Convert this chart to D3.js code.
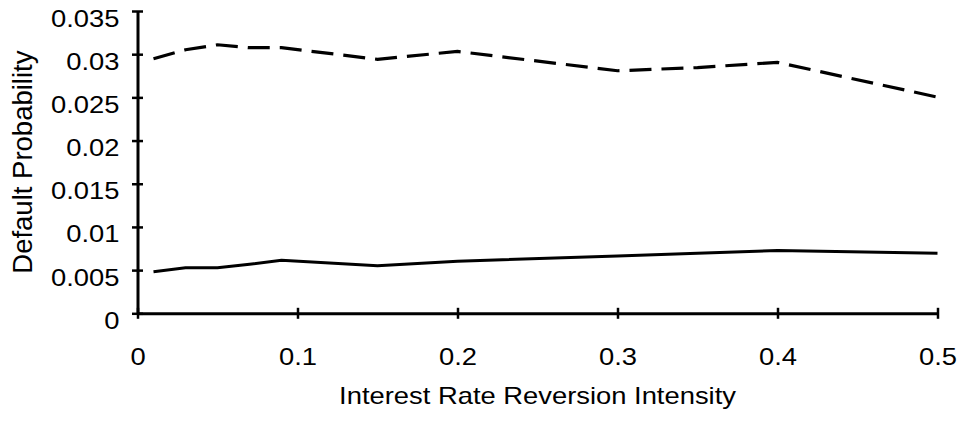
<!DOCTYPE html>
<html>
<head>
<meta charset="utf-8">
<script src="https://cdn.jsdelivr.net/npm/d3@7"></script>
<style>
  html, body { margin: 0; padding: 0; background: #fff; }
  svg { display: block; }
  text { font-family: "Liberation Sans", Arial, sans-serif; fill: #000; }
</style>
</head>
<body>
<svg id="chart" width="960" height="423"></svg>
<script>
// Reversion intensity values sampled
const intensity = [0.01, 0.03, 0.05, 0.07, 0.09, 0.15, 0.2, 0.3, 0.35, 0.4, 0.5];
// Default probability, lower curve (solid)
const solidSeries = [0.00482, 0.00528, 0.00528, 0.00568, 0.00614, 0.00552, 0.00603, 0.00664, 0.00695, 0.00726, 0.00695];
// Default probability, upper curve (dashed)
const dashedSeries = [0.02947, 0.03051, 0.03109, 0.03075, 0.03075, 0.02941, 0.03032, 0.02808, 0.02845, 0.02905, 0.02503];
// Axis ticks
const xTicks = [0, 0.1, 0.2, 0.3, 0.4, 0.5];
const yTicks = [0, 0.005, 0.01, 0.015, 0.02, 0.025, 0.03, 0.035];
const xTitle = "Interest Rate Reversion Intensity";
const yTitle = "Default Probability";

const svg = d3.select("#chart");
const plotLeft = 137.5, plotRight = 937.5, plotTop = 11, plotBottom = 313.3;

const x = d3.scaleLinear().domain([0, 0.5]).range([plotLeft, plotRight]);
const y = d3.scaleLinear().domain([0, 0.035]).range([plotBottom, plotTop]);

const stretch = "scale(1.19,1)";

// Y axis
const gy = svg.append("g")
  .attr("transform", `translate(${plotLeft},0)`)
  .call(d3.axisLeft(y).tickValues(yTicks).tickSizeOuter(0)
        .tickFormat(d => String(+d.toFixed(3))));
gy.select(".domain").attr("stroke", "#000").attr("stroke-width", 3);
gy.selectAll(".tick line").attr("x1", 5.5).attr("x2", -5.5)
  .attr("stroke", "#000").attr("stroke-width", 2.5);
gy.selectAll(".tick text")
  .attr("x", null).attr("dy", null)
  .attr("transform", `translate(-18,15) ${stretch}`)
  .attr("text-anchor", "end")
  .style("font-size", "23px");

// X axis
const gx = svg.append("g")
  .attr("transform", `translate(0,${plotBottom})`)
  .call(d3.axisBottom(x).tickValues(xTicks).tickSizeOuter(0)
        .tickFormat(d => String(d)));
gx.select(".domain").attr("stroke", "#000").attr("stroke-width", 3);
gx.selectAll(".tick line").attr("y1", -5.5).attr("y2", 5.5)
  .attr("stroke", "#000").attr("stroke-width", 2.5);
gx.selectAll(".tick text")
  .attr("y", null).attr("dy", null)
  .attr("transform", `translate(0,52) ${stretch}`)
  .attr("text-anchor", "middle")
  .style("font-size", "23px");

svg.selectAll("g").attr("font-family", null).attr("font-size", null);

// Series lines
const line = d3.line().x(d => x(d[0])).y(d => y(d[1]));

svg.append("path")
  .datum(d3.zip(intensity, dashedSeries))
  .attr("d", line)
  .attr("fill", "none")
  .attr("stroke", "#000")
  .attr("stroke-width", 3.2)
  .attr("stroke-dasharray", "22,10");

svg.append("path")
  .datum(d3.zip(intensity, solidSeries))
  .attr("d", line)
  .attr("fill", "none")
  .attr("stroke", "#000")
  .attr("stroke-width", 3);

// Axis titles
svg.append("text")
  .attr("transform", `translate(${(plotLeft + plotRight) / 2},404) ${stretch}`)
  .attr("text-anchor", "middle")
  .style("font-size", "23px")
  .text(xTitle);

svg.append("text")
  .attr("transform", `translate(32,${(plotTop + plotBottom) / 2}) rotate(-90)`)
  .attr("text-anchor", "middle")
  .style("font-size", "27.5px")
  .text(yTitle);
</script>
</body>
</html>
